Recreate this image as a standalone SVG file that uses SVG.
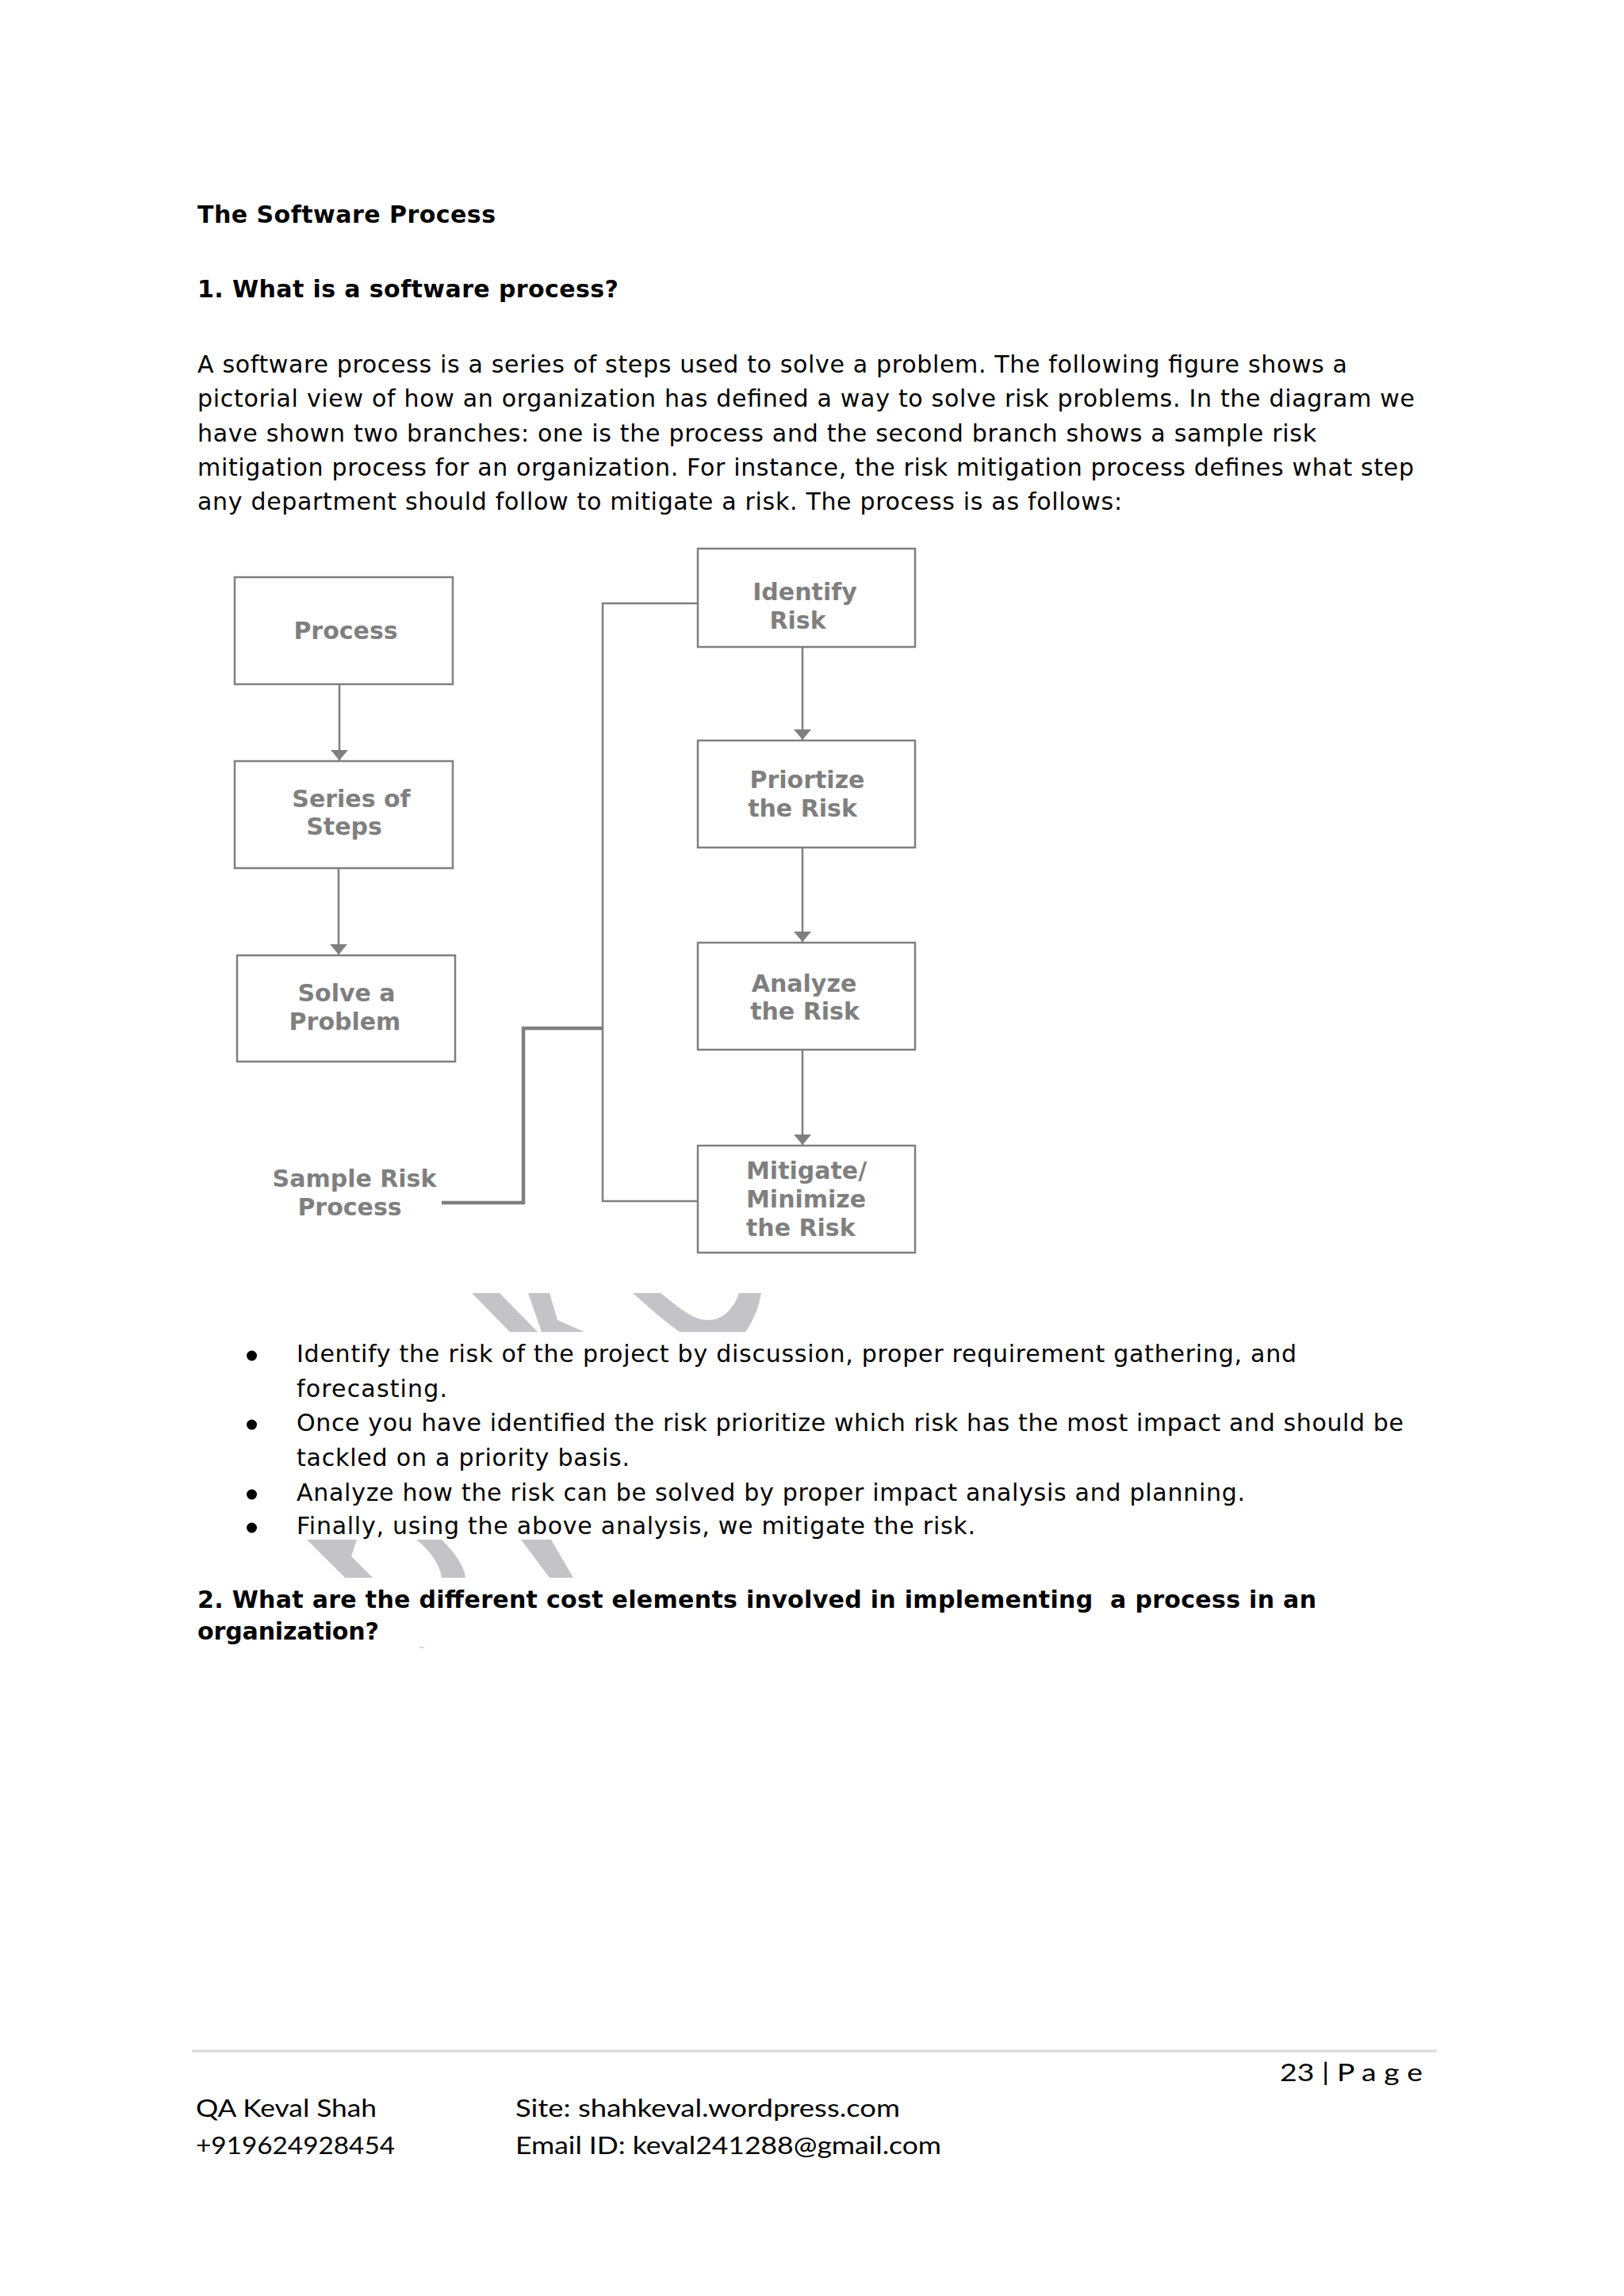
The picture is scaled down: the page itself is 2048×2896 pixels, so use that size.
<svg xmlns="http://www.w3.org/2000/svg" width="2048" height="2896" viewBox="0 0 2048 2896">
<style>
.body{font-family:"DejaVu Sans",Verdana,sans-serif;font-size:30px;fill:#000}
.bold{font-family:"DejaVu Sans",Verdana,sans-serif;font-size:30px;font-weight:bold;fill:#000}
.foot{font-family:Lato,"Open Sans",sans-serif;font-size:30px;fill:#000}
.box{fill:#fff;stroke:#7f7f7f;stroke-width:2.5}
.lbl{font-family:"DejaVu Sans",Verdana,sans-serif;font-size:30px;font-weight:bold;fill:#7f7f7f;text-anchor:middle}
.lbls{font-family:"DejaVu Sans",Verdana,sans-serif;font-size:30px;font-weight:bold;fill:#7f7f7f}
.conn{fill:none;stroke:#7f7f7f;stroke-width:2.5}
.thick{fill:none;stroke:#7f7f7f;stroke-width:4.5}
.wm{fill:#c4c3c7}
.dot{fill:#000}
</style>
<defs>
<marker id="arr" markerUnits="userSpaceOnUse" markerWidth="13" markerHeight="22" viewBox="0 0 13 22" refX="13" refY="11" orient="auto">
<path d="M0,0 L13,11 L0,22 Z" fill="#7f7f7f"/>
</marker>
</defs>
<rect width="2048" height="2896" fill="#fff"/>

<!-- page text -->
<text class="bold" x="249" y="281" textLength="376" lengthAdjust="spacing">The Software Process</text>
<text class="bold" x="249" y="375" textLength="531" lengthAdjust="spacing">1. What is a software process?</text>
<text class="body" x="249" y="470" textLength="1450" lengthAdjust="spacing">A software process is a series of steps used to solve a problem. The following figure shows a</text>
<text class="body" x="249" y="513" textLength="1535" lengthAdjust="spacing">pictorial view of how an organization has defined a way to solve risk problems. In the diagram we</text>
<text class="body" x="249" y="557" textLength="1411" lengthAdjust="spacing">have shown two branches: one is the process and the second branch shows a sample risk</text>
<text class="body" x="249" y="600" textLength="1534" lengthAdjust="spacing">mitigation process for an organization. For instance, the risk mitigation process defines what step</text>
<text class="body" x="249" y="643" textLength="1166" lengthAdjust="spacing">any department should follow to mitigate a risk. The process is as follows:</text>

<!-- watermark fragments -->
<polygon class="wm" points="595,1631 630,1631 678,1680 643,1680"/>
<polygon class="wm" points="666,1631 693,1631 703,1665 737,1680 683,1680"/>
<path class="wm" d="M798,1631 L833,1631 C860,1652 874,1665 893,1665 C915,1665 927,1646 932,1631 L960,1631 C956,1655 946,1672 940,1680 L857,1680 C835,1664 815,1646 798,1631 Z"/>
<polygon class="wm" points="387,1942 450,1942 443,1963 470,1990 435,1990"/>
<path class="wm" d="M525,1942 L557,1942 C575,1960 585,1975 587,1990 L557,1990 C555,1975 545,1958 525,1942 Z"/>
<polygon class="wm" points="657,1942 695,1942 723,1990 693,1990"/>

<!-- bullets -->
<ellipse class="dot" cx="317.5" cy="1710" rx="6.5" ry="6.5"/>
<text class="body" x="374" y="1718" textLength="1261" lengthAdjust="spacing">Identify the risk of the project by discussion, proper requirement gathering, and</text>
<text class="body" x="374" y="1762" textLength="190" lengthAdjust="spacing">forecasting.</text>
<ellipse class="dot" cx="317.5" cy="1797" rx="6.5" ry="6.5"/>
<text class="body" x="374" y="1805" textLength="1396" lengthAdjust="spacing">Once you have identified the risk prioritize which risk has the most impact and should be</text>
<text class="body" x="374" y="1849" textLength="420" lengthAdjust="spacing">tackled on a priority basis.</text>
<ellipse class="dot" cx="317.5" cy="1885" rx="6.5" ry="6.5"/>
<text class="body" x="374" y="1893" textLength="1196" lengthAdjust="spacing">Analyze how the risk can be solved by proper impact analysis and planning.</text>
<ellipse class="dot" cx="317.5" cy="1927" rx="6.5" ry="6.5"/>
<text class="body" x="374" y="1935" textLength="856" lengthAdjust="spacing">Finally, using the above analysis, we mitigate the risk.</text>

<text class="bold" x="249" y="2028" textLength="1411" lengthAdjust="spacing" style="white-space:pre">2. What are the different cost elements involved in implementing  a process in an</text>
<text class="bold" x="249" y="2068" textLength="229" lengthAdjust="spacing">organization?</text>
<rect x="529" y="2077" width="6" height="2" fill="#d8d8d8"/>

<!-- connectors -->
<g id="connectors">
<line class="conn" x1="428" y1="864" x2="428" y2="959" marker-end="url(#arr)"/>
<line class="conn" x1="427" y1="1096" x2="427" y2="1204" marker-end="url(#arr)"/>
<line class="conn" x1="1012" y1="817" x2="1012" y2="933" marker-end="url(#arr)"/>
<line class="conn" x1="1012" y1="1070" x2="1012" y2="1188" marker-end="url(#arr)"/>
<line class="conn" x1="1012" y1="1325" x2="1012" y2="1444" marker-end="url(#arr)"/>
<polyline class="conn" points="880,761 760,761 760,1515 880,1515"/>
<polyline class="thick" points="557,1517 660,1517 660,1297 760,1297"/>
</g>

<!-- nodes -->
<g id="node-process">
<rect class="box" x="296" y="728" width="275" height="135"/>
<text class="lbl" x="436" y="806">Process</text>
</g>
<g id="node-series">
<rect class="box" x="296" y="960" width="275" height="135"/>
<text class="lbl" x="443" y="1018">Series of</text>
<text class="lbl" x="434" y="1053">Steps</text>
</g>
<g id="node-solve">
<rect class="box" x="299" y="1205" width="275" height="134"/>
<text class="lbl" x="437" y="1263">Solve a</text>
<text class="lbl" x="435" y="1299">Problem</text>
</g>
<g id="node-identify">
<rect class="box" x="880" y="692" width="274" height="124"/>
<text class="lbl" x="1015" y="757">Identify</text>
<text class="lbl" x="1006" y="793">Risk</text>
</g>
<g id="node-prioritize">
<rect class="box" x="880" y="934" width="274" height="135"/>
<text class="lbl" x="1018" y="994">Priortize</text>
<text class="lbl" x="1012" y="1030">the Risk</text>
</g>
<g id="node-analyze">
<rect class="box" x="880" y="1189" width="274" height="135"/>
<text class="lbl" x="1014" y="1251">Analyze</text>
<text class="lbl" x="1015" y="1286">the Risk</text>
</g>
<g id="node-mitigate">
<rect class="box" x="880" y="1445" width="274" height="135"/>
<text class="lbls" x="941" y="1487">Mitigate/</text>
<text class="lbls" x="941" y="1523">Minimize</text>
<text class="lbls" x="941" y="1559">the Risk</text>
</g>
<g id="node-sample">
<text class="lbl" x="447" y="1497">Sample Risk</text>
<text class="lbl" x="441" y="1533">Process</text>
</g>

<!-- footer -->
<line x1="242" y1="2587" x2="1812" y2="2587" stroke="#d9d9d9" stroke-width="3"/>
<text class="foot" x="1614" y="2625" textLength="180" lengthAdjust="spacingAndGlyphs">23 | P a g e</text>
<text class="foot" x="247" y="2670" textLength="228" lengthAdjust="spacingAndGlyphs">QA Keval Shah</text>
<text class="foot" x="247" y="2717" textLength="251" lengthAdjust="spacingAndGlyphs">+919624928454</text>
<text class="foot" x="650" y="2670" textLength="485" lengthAdjust="spacingAndGlyphs">Site: shahkeval.wordpress.com</text>
<text class="foot" x="650" y="2717" textLength="537" lengthAdjust="spacingAndGlyphs">Email ID: keval241288@gmail.com</text>
</svg>
